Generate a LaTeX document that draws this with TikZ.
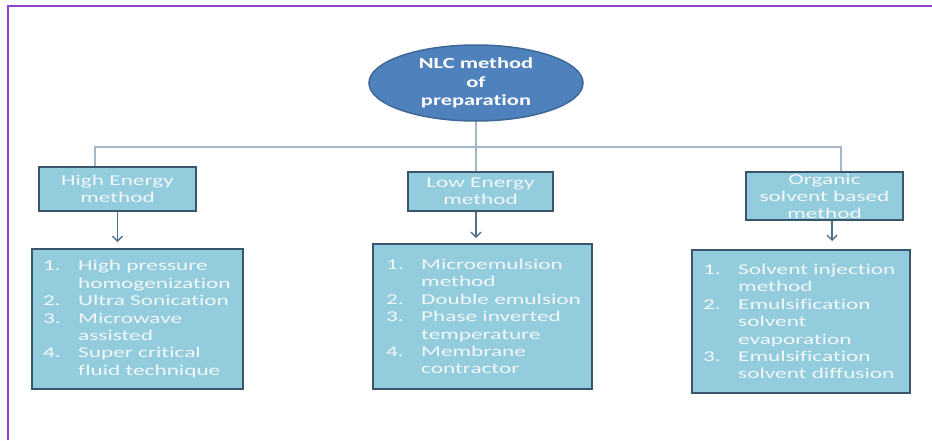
\documentclass[tikz,border=0pt]{standalone}
\usepackage{fontspec}
\setmainfont{Carlito}
\newfontfamily\boxfont[FakeStretch=1.55,Ligatures=CommonOff]{Carlito}
\newfontfamily\rootfont[FakeStretch=1.45,Ligatures=CommonOff]{Carlito}
\usetikzlibrary{arrows.meta,shapes.geometric}
\definecolor{framepurple}{HTML}{8E44C9}
\definecolor{boxfill}{HTML}{93CDDD}
\definecolor{boxdraw}{HTML}{3A566E}
\definecolor{rootfill}{HTML}{4F81BD}
\definecolor{rootdraw}{HTML}{3D6797}
\definecolor{connline}{HTML}{A3B6C6}
\definecolor{arrline}{HTML}{4F6F8E}
\definecolor{boxtext}{HTML}{F2F8FA}
\newcommand\numitem[2]{\makebox[35pt][l]{#1}#2}
\newcommand\contline[1]{\hspace*{35pt}#1}
\tikzset{
  catbox/.style={rectangle, fill=boxfill, draw=boxdraw, line width=2pt, inner sep=0pt,
    text=boxtext, align=center, font=\boxfont\fontsize{15}{17}\selectfont},
  listbox/.style={rectangle, fill=boxfill, draw=boxdraw, line width=2pt, inner sep=0pt},
  listtext/.style={anchor=west, inner sep=0pt, text=boxtext, align=left,
    font=\boxfont\fontsize{15}{17.4}\selectfont},
  rootnode/.style={ellipse, fill=rootfill, draw=rootdraw, line width=1.5pt, inner sep=0pt,
    minimum width=214pt, minimum height=76pt, text=white, align=center,
    font=\rootfont\bfseries\fontsize{15.5}{18.5}\selectfont},
  conn/.style={draw=connline, line width=1.2pt},
  arr/.style={draw=arrline, line width=1.3pt, -{Straight Barb[length=5pt,width=10pt]}},
  frameline/.style={draw=framepurple, line width=2pt}
}
\begin{document}
\begin{tikzpicture}[x=1pt,y=-1pt]
\useasboundingbox (0,0) rectangle (932,440);
% frame
\draw[frameline] (8,440) -- (8,6) -- (932,6);
% root
\node[rootnode] (root) at (476,83) {NLC method\\of\\preparation};
% categories
\node[catbox, minimum width=157pt, minimum height=44pt] (high) at (117.5,189) {High Energy\\method};
\node[catbox, minimum width=145pt, minimum height=39pt] (low) at (480.5,191.5) {Low Energy\\method};
\node[catbox, minimum width=157pt, minimum height=48pt] (org) at (824.5,196) {Organic\\solvent based\\method};
% list boxes
\node[listbox, minimum width=211pt, minimum height=140pt] (l1) at (137.5,319) {};
\node[listbox, minimum width=219pt, minimum height=145pt] (l2) at (482.5,316.5) {};
\node[listbox, minimum width=218pt, minimum height=143pt] (l3) at (801,321.5) {};
\node[listtext] (t1) at (43,319) {\numitem{1.}{High pressure}\\\contline{homogenization}\\\numitem{2.}{Ultra Sonication}\\\numitem{3.}{Microwave}\\\contline{assisted}\\\numitem{4.}{Super critical}\\\contline{fluid technique}};
\node[listtext] (t2) at (386,316.5) {\numitem{1.}{Microemulsion}\\\contline{method}\\\numitem{2.}{Double emulsion}\\\numitem{3.}{Phase inverted}\\\contline{temperature}\\\numitem{4.}{Membrane}\\\contline{contractor}};
\node[listtext] (t3) at (703,321.5) {\numitem{1.}{Solvent injection}\\\contline{method}\\\numitem{2.}{Emulsification}\\\contline{solvent}\\\contline{evaporation}\\\numitem{3.}{Emulsification}\\\contline{solvent diffusion}};
% connectors
\coordinate (busL) at (95,147);
\coordinate (busM) at (476,147);
\coordinate (busR) at (841,147);
\draw[conn] (root.south) -- (busM);
\draw[conn] (high.north -| busL) -- (busL) -- (busR) -- (org.north -| busR);
\draw[conn] (busM) -- (low.north -| busM);
% arrows
\coordinate (oa) at ([xshift=7.5pt]org.south);
\draw[arr, shorten >=6pt] (high.south) -- (high.south |- l1.north);
\draw[arr, shorten >=5pt] (low.south -| busM) -- (l2.north -| busM);
\draw[arr, shorten >=8pt] (oa) -- (oa |- l3.north);
\end{tikzpicture}
\end{document}
